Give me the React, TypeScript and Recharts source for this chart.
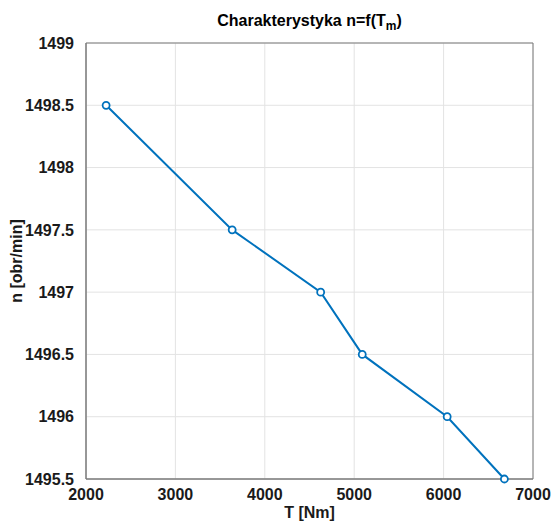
import React from 'react';
import {
  LineChart,
  Line,
  XAxis,
  YAxis,
  CartesianGrid,
  ReferenceArea,
} from 'recharts';

// torque [Nm] vs speed [obr/min]
const torque = [2225, 3635, 4625, 5090, 6040, 6680];
const speed = [1498.5, 1497.5, 1497, 1496.5, 1496, 1495.5];
const xTicks = [2000, 3000, 4000, 5000, 6000, 7000];
const yTicks = [1495.5, 1496, 1496.5, 1497, 1497.5, 1498, 1498.5, 1499];

const data = torque.map((t, i) => ({ t, n: speed[i] }));

const BLUE = '#0072BD';
const FONT = '"Liberation Sans", Arial, sans-serif';
const tickStyle = { fontSize: 16, fill: '#1a1a1a', fontFamily: FONT, fontWeight: 'bold' };

const App: React.FC = () => (
  <div style={{ position: 'absolute', left: 0, top: 0, width: 553, height: 526, background: '#fff' }}>
    {/* Title */}
    <div
      style={{
        position: 'absolute',
        left: 86,
        width: 447,
        top: 12,
        textAlign: 'center',
        fontFamily: FONT,
        fontWeight: 'bold',
        fontSize: 16,
        color: '#000',
      }}
    >
      Charakterystyka n=f(T<sub style={{ fontSize: 12 }}>m</sub>)
    </div>

    <LineChart
      width={553}
      height={526}
      data={data}
      margin={{ top: 43, right: 20, bottom: 0, left: 0 }}
    >
      <CartesianGrid stroke="#e3e3e3" strokeWidth={1} />
      <XAxis
        dataKey="t"
        type="number"
        domain={[2000, 7000]}
        ticks={xTicks}
        height={47}
        tickLine={false}
        axisLine={{ stroke: '#7a7a7a' }}
        tick={tickStyle}
        tickMargin={4}
        label={{
          value: 'T [Nm]',
          position: 'insideBottom',
          offset: 8,
          style: { fontSize: 16, fill: '#1a1a1a', fontFamily: FONT, fontWeight: 'bold' },
        }}
      />
      <YAxis
        dataKey="n"
        type="number"
        domain={[1495.5, 1499]}
        ticks={yTicks}
        width={86}
        tickLine={false}
        axisLine={{ stroke: '#7a7a7a' }}
        tick={tickStyle}
        tickMargin={6}
        label={{
          value: 'n [obr/min]',
          angle: -90,
          position: 'insideLeft',
          offset: 16,
          style: { textAnchor: 'middle', fontSize: 16, fill: '#1a1a1a', fontFamily: FONT, fontWeight: 'bold' },
        }}
      />
      <ReferenceArea
        x1={2000}
        x2={7000}
        y1={1495.5}
        y2={1499}
        fill="none"
        stroke="#7a7a7a"
        strokeWidth={1}
      />
      <Line
        dataKey="n"
        stroke={BLUE}
        strokeWidth={2}
        isAnimationActive={false}
        dot={{ r: 3.5, fill: '#fff', stroke: BLUE, strokeWidth: 1.8 }}
        activeDot={false}
      />
    </LineChart>
  </div>
);

export default App;
